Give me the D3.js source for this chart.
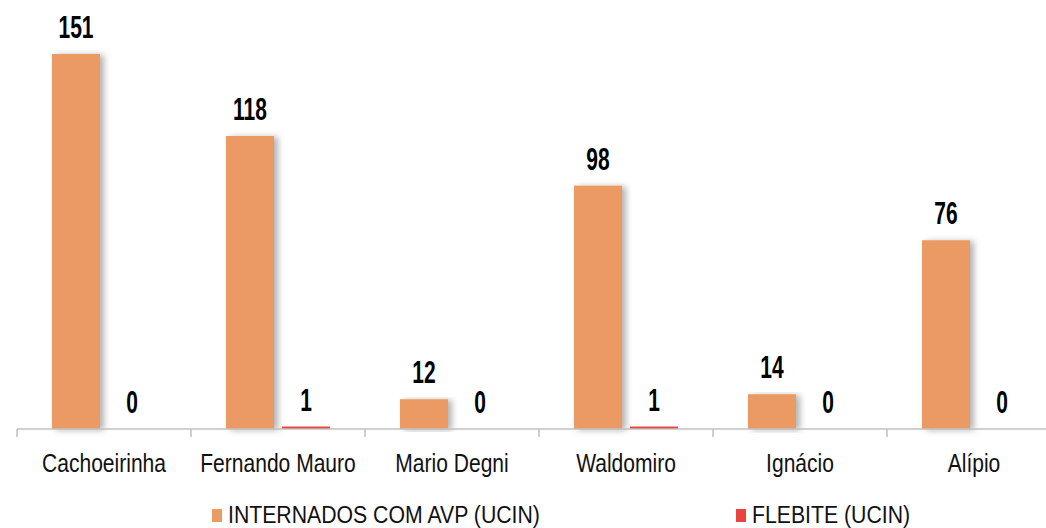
<!DOCTYPE html>
<html>
<head>
<meta charset="utf-8">
<script src="https://cdn.jsdelivr.net/npm/d3@7"></script>
<style>
  body { margin: 0; background: #fff; }
  text { font-family: "Liberation Sans", Arial, sans-serif; }
</style>
</head>
<body>
<div id="chart"></div>
<script>
const categories = ['Cachoeirinha', 'Fernando Mauro', 'Mario Degni', 'Waldomiro', 'Ignácio', 'Alípio'];
const seriesNames = ['INTERNADOS COM AVP (UCIN)', 'FLEBITE (UCIN)'];
const internados = [151, 118, 12, 98, 14, 76];
const flebite = [0, 1, 0, 1, 0, 0];
const colors = ['#EA9A62', '#E8453C'];

const dimensions = {
  width: 1046,
  height: 528,
  margin: { top: 54, left: 17, right: -15, bottom: 99 }
}
dimensions.ctrWidth = dimensions.width - dimensions.margin.left - dimensions.margin.right;
dimensions.ctrHeight = dimensions.height - dimensions.margin.top - dimensions.margin.bottom;

const dataset = categories.map((c, i) => ({ name: c, values: [internados[i], flebite[i]] }));

const svg = d3.select('#chart')
  .append('svg')
  .attr('width', dimensions.width)
  .attr('height', dimensions.height);

const defs = svg.append('defs');
const shadow = defs.append('filter')
  .attr('id', 'shadow')
  .attr('x', '-20%').attr('y', '-5%')
  .attr('width', '160%').attr('height', '115%');
shadow.append('feDropShadow')
  .attr('dx', 4).attr('dy', 1)
  .attr('stdDeviation', 3)
  .attr('flood-color', '#000')
  .attr('flood-opacity', 0.3);

const ctr = svg.append('g')
  .attr('transform', `translate(${dimensions.margin.left}, ${dimensions.margin.top})`);

// Scales
const xScale = d3.scaleBand()
  .domain(categories)
  .range([0, dimensions.ctrWidth])
  .padding(0);

const xInner = d3.scaleBand()
  .domain(d3.range(seriesNames.length))
  .range([0, xScale.bandwidth()])
  .paddingInner(0.143)
  .paddingOuter(0.625);

const yScale = d3.scaleLinear()
  .domain([0, 151])
  .range([dimensions.ctrHeight, 0]);

// Bars
const groups = ctr.selectAll('g.cat')
  .data(dataset)
  .join('g')
  .classed('cat', true)
  .attr('transform', d => `translate(${xScale(d.name)}, 0)`);

groups.selectAll('rect')
  .data(d => d.values.map((v, i) => ({ v, i })))
  .join('rect')
  .attr('x', d => xInner(d.i))
  .attr('y', d => yScale(d.v))
  .attr('width', xInner.bandwidth())
  .attr('height', d => dimensions.ctrHeight - yScale(d.v))
  .attr('fill', d => colors[d.i])
  .attr('filter', d => d.v > 2 ? 'url(#shadow)' : null);

// Value labels (narrow bold look)
groups.selectAll('text.val')
  .data(d => d.values.map((v, i) => ({ v, i })))
  .join('text')
  .classed('val', true)
  .attr('transform', d => `translate(${xInner(d.i) + xInner.bandwidth() / 2}, ${yScale(d.v) - 16}) scale(0.875, 1.28)`)
  .attr('text-anchor', 'middle')
  .attr('font-size', 24)
  .attr('font-weight', 'bold')
  .attr('fill', '#000')
  .text(d => d.v);

// Axis
const axisG = ctr.append('g')
  .attr('transform', `translate(0, ${dimensions.ctrHeight})`);

axisG.append('line')
  .attr('x1', 0)
  .attr('x2', dimensions.ctrWidth)
  .attr('stroke', '#c0c0c0')
  .attr('stroke-width', 1.5);

axisG.selectAll('line.tick')
  .data(categories.concat(['end']))
  .join('line')
  .classed('tick', true)
  .attr('x1', (d, i) => i * xScale.step())
  .attr('x2', (d, i) => i * xScale.step())
  .attr('y1', 0)
  .attr('y2', 8)
  .attr('stroke', '#c0c0c0')
  .attr('stroke-width', 1.5);

axisG.selectAll('text.cat')
  .data(categories)
  .join('text')
  .classed('cat', true)
  .attr('transform', d => `translate(${xScale(d) + xScale.bandwidth() / 2}, 43) scale(0.877, 1.1)`)
  .attr('text-anchor', 'middle')
  .attr('font-size', 24)
  .attr('fill', '#111')
  .text(d => d);

// Legend
const legendX = [212, 736];
const legend = svg.append('g')
  .selectAll('g')
  .data(seriesNames)
  .join('g')
  .attr('transform', (d, i) => `translate(${legendX[i]}, 523)`);

legend.append('rect')
  .attr('x', 0)
  .attr('y', -14)
  .attr('width', 10)
  .attr('height', 13)
  .attr('fill', (d, i) => colors[i]);

legend.append('text')
  .attr('transform', 'translate(16, 0) scale(0.885, 1)')
  .attr('font-size', 24)
  .attr('fill', '#111')
  .text(d => d);
</script>
</body>
</html>
